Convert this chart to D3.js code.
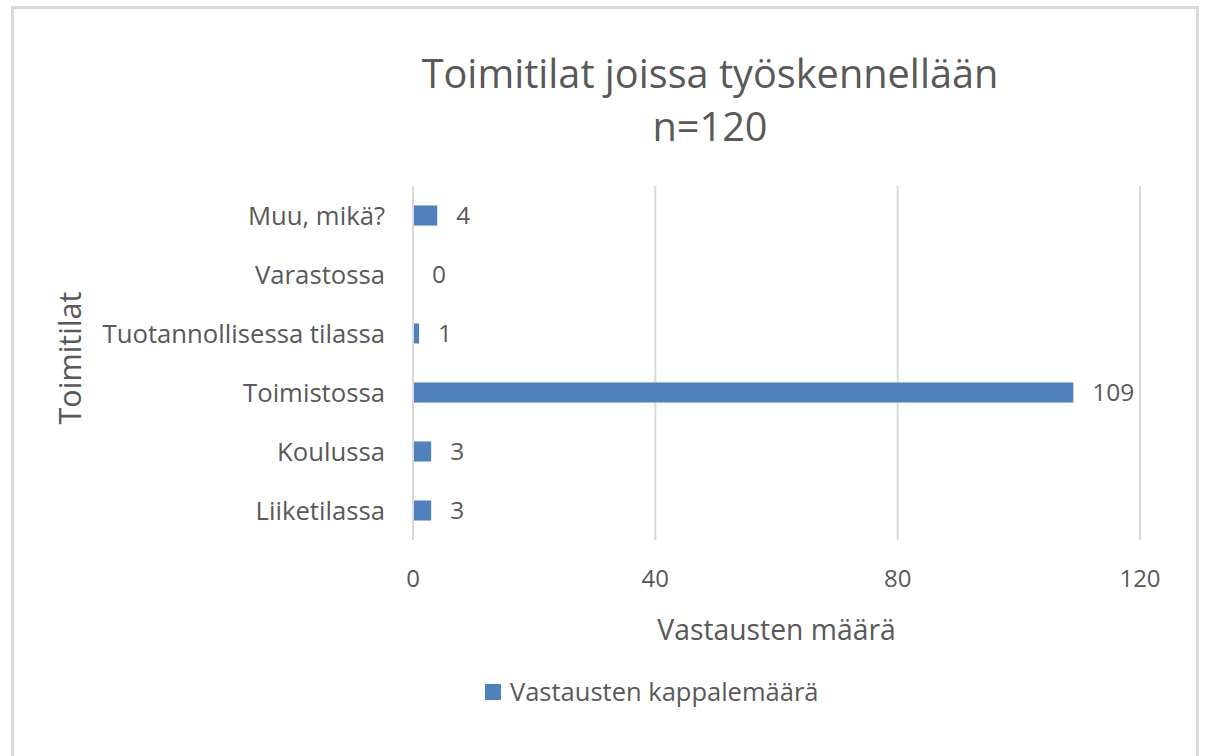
<!DOCTYPE html>
<meta charset="utf-8">
<style>
    body { margin: 0; background: #fff; }
    text { font-family: "Open Sans", sans-serif; fill: #595959; }
</style>
<svg width="1205" height="756"></svg>

<script src="https://d3js.org/d3.v7.min.js"></script>
<script>
    var categories = ["Muu, mikä?", "Varastossa", "Tuotannollisessa tilassa", "Toimistossa", "Koulussa", "Liiketilassa"],
        counts = [4, 0, 1, 109, 3, 3],
        xTicks = [0, 40, 80, 120],
        titleLines = ["Toimitilat joissa työskennellään", "n=120"],
        seriesName = "Vastausten kappalemäärä";

    (function () {
        var svg = d3.select("svg"),
            left = 413, right = 1140, top = 186, bottom = 540,
            barColor = "#4f81bd";

        // chart frame
        svg.append("rect")
            .attr("x", 12.5).attr("y", 7.5)
            .attr("width", 1185).attr("height", 760)
            .attr("fill", "#fff")
            .attr("stroke", "#d9d9d9")
            .attr("stroke-width", 3);

        var x = d3.scaleLinear().domain([0, 120]).range([left, right]),
            y = d3.scaleBand().domain(categories).range([top, bottom]).paddingInner(0.66).paddingOuter(0.33);

        // gridlines
        svg.append("g").selectAll("line")
            .data(xTicks)
            .enter().append("line")
            .attr("x1", x).attr("x2", x)
            .attr("y1", top).attr("y2", bottom)
            .attr("stroke", "#d9d9d9")
            .attr("stroke-width", 2);

        // x tick labels
        svg.append("g").selectAll("text")
            .data(xTicks)
            .enter().append("text")
            .attr("x", x)
            .attr("y", 587)
            .attr("text-anchor", "middle")
            .attr("font-size", 24)
            .text(function (d) { return d; });

        // bars
        svg.append("g").selectAll("rect")
            .data(counts)
            .enter().append("rect")
            .attr("x", x(0) + 1)
            .attr("y", function (d, i) { return y(categories[i]); })
            .attr("width", function (d) { return Math.max(0, x(d) - x(0) - 1); })
            .attr("height", y.bandwidth())
            .attr("fill", barColor);

        // value labels
        svg.append("g").selectAll("text")
            .data(counts)
            .enter().append("text")
            .attr("x", function (d) { return x(d) + 19; })
            .attr("y", function (d, i) { return y(categories[i]) + y.bandwidth() / 2; })
            .attr("dy", "0.36em")
            .attr("font-size", 24.5)
            .text(function (d) { return d; });

        // category labels
        svg.append("g").selectAll("text")
            .data(categories)
            .enter().append("text")
            .attr("x", 385)
            .attr("y", function (d) { return y(d) + y.bandwidth() / 2; })
            .attr("dy", "0.36em")
            .attr("text-anchor", "end")
            .attr("font-size", 25.7)
            .text(function (d) { return d; });

        // title
        svg.append("g").selectAll("text")
            .data(titleLines)
            .enter().append("text")
            .attr("x", 710)
            .attr("y", function (d, i) { return 88 + i * 53; })
            .attr("text-anchor", "middle")
            .attr("font-size", 39.7)
            .text(function (d) { return d; });

        // axis titles
        svg.append("text")
            .attr("x", (left + right) / 2)
            .attr("y", 640)
            .attr("text-anchor", "middle")
            .attr("font-size", 28.3)
            .text("Vastausten määrä");

        svg.append("text")
            .attr("transform", "translate(81,358) rotate(-90)")
            .attr("text-anchor", "middle")
            .attr("font-size", 30.5)
            .text("Toimitilat");

        // legend
        var legend = svg.append("g").attr("transform", "translate(485,684)");
        legend.append("rect")
            .attr("width", 16).attr("height", 16)
            .attr("fill", barColor);
        legend.append("text")
            .attr("x", 25).attr("y", 8)
            .attr("dy", "0.36em")
            .attr("font-size", 25.5)
            .text(seriesName);
    })();
</script>
